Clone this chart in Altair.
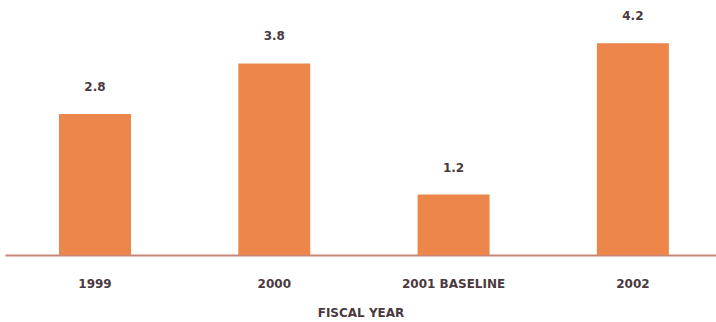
import altair as alt
import pandas as pd

years = ["1999", "2000", "2001 BASELINE", "2002"]
values = [2.8, 3.8, 1.2, 4.2]
labels = ["2.8", "3.8", "1.2", "4.2"]

df = pd.DataFrame({"year": years, "value": values, "label": labels})

BAR = "#ED864B"
TXT = "#4A3A3E"
FONT = "DejaVu Sans"

x = alt.X(
    "year:N",
    sort=years,
    scale=alt.Scale(paddingInner=0.5985, paddingOuter=0.282, align=0.534),
    axis=alt.Axis(
        title="FISCAL YEAR",
        labelAngle=0,
        ticks=False,
        domainColor="#C4877A",
        domainWidth=2,
        labelPadding=23,
        labelFont=FONT,
        labelFontSize=12,
        labelFontWeight="bold",
        labelColor=TXT,
        titleFont=FONT,
        titleFontSize=12,
        titleFontWeight="bold",
        titleColor=TXT,
        titlePadding=18,
    ),
)
y = alt.Y(
    "value:Q",
    scale=alt.Scale(domain=[0, 5.06], nice=False),
    axis=None,
)

bars = alt.Chart(df).mark_bar(color=BAR).encode(x=x, y=y)
text = alt.Chart(df).mark_text(
    dy=-27, font=FONT, fontSize=12, fontWeight="bold", color=TXT, baseline="middle"
).encode(x=x, y=y, text="label:N")

chart = (
    alt.layer(bars, text)
    .properties(
        width=711,
        height=255,
        autosize=alt.AutoSizeParams(type="none"),
        padding={"left": 5, "top": 0, "right": 0, "bottom": 67},
    )
    .configure_view(stroke=None)
)

chart.save("out.html", embed_options={"renderer": "svg", "actions": False})
